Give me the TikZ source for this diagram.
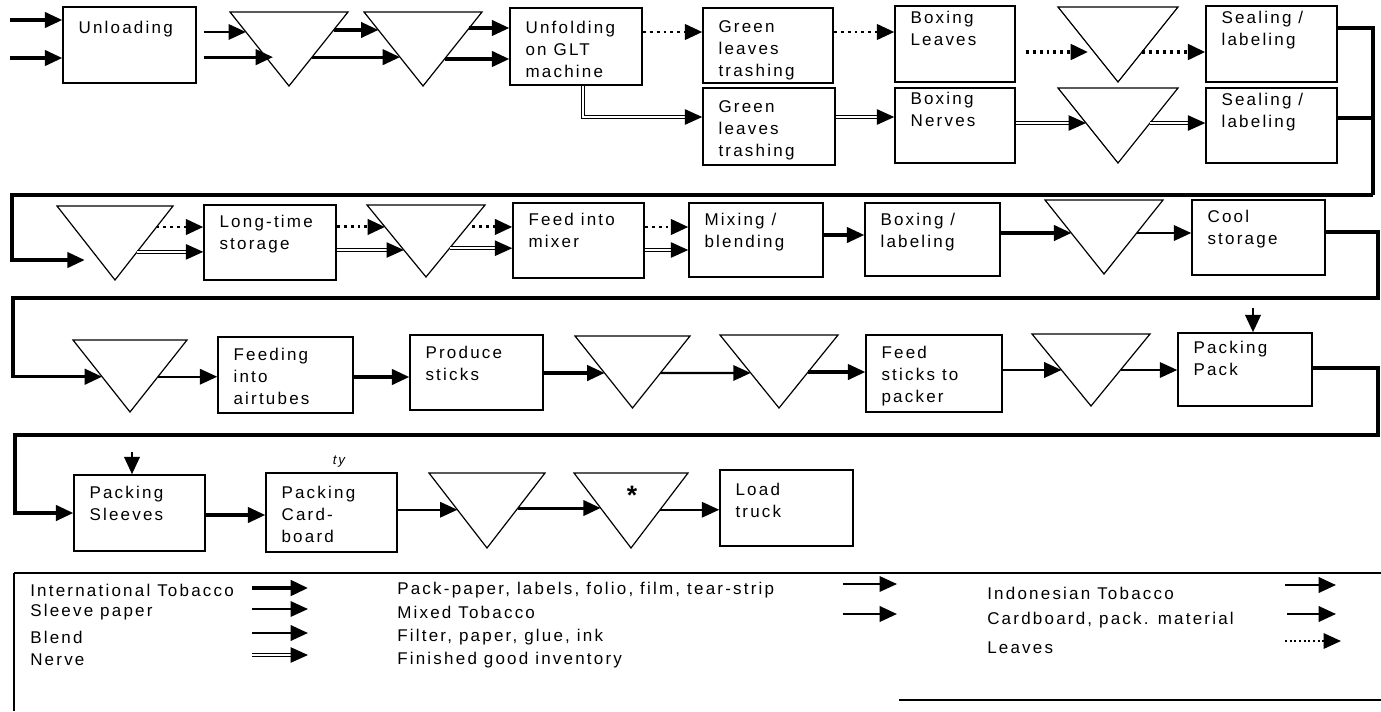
\documentclass[tikz,border=0pt]{standalone}
\usepackage{fontspec}
\setmainfont{Liberation Sans}[LetterSpace=13]
\usetikzlibrary{arrows.meta,calc}

\newcommand{\flowfont}{\fontsize{12.75pt}{16.5pt}\selectfont}

% process box: name, x1, y1, x2, y2, text drop, text
\newcommand{\flowbox}[7]{%
  \node[procbox, minimum width={(#4-(#2))*0.75pt}, minimum height={(#5-(#3))*0.75pt}]
    (#1) at ({(#2+#4)/2},{(#3+#5)/2}) {};
  \node[boxtext] (#1-txt) at ($(#1.north west)+(16,#6)$) {#7};
}

% storage triangle (apex down): name, left x, top y, width, height
\newcommand{\flowtri}[5]{%
  \coordinate (#1l) at (#2,#3);
  \coordinate (#1r) at ({#2+#4},#3);
  \coordinate (#1b) at ({#2+#4/2},{#3+#5});
  \draw[storetri] (#1l) -- (#1r) -- (#1b) -- cycle;
}

\begin{document}
\begin{tikzpicture}[x=0.75pt, y=-0.75pt,
  procbox/.style={draw, line width=1.1pt, inner sep=0pt},
  boxtext/.style={anchor=north west, align=left, inner sep=0pt, font=\flowfont},
  storetri/.style={draw, line width=0.9pt, line join=miter},
  tipA/.style={-{Triangle[length=13pt,width=11.5pt]}},
  flowA/.style={tipA, line width=2.3pt},
  flowB/.style={tipA, line width=1.6pt},
  dotflow/.style={tipA, line width=2.2pt, dash pattern=on 2.2pt off 3pt},
  nerve/.style={tipA, double, double distance=1.6pt, line width=0.9pt},
  loopline/.style={line width=2.4pt, line join=miter},
  legtext/.style={anchor=west, inner sep=0pt, font=\flowfont},
  frameline/.style={line width=1.8pt}
]
\useasboundingbox (0,0) rectangle (1381,711);

% ---------------- row 1 ----------------
\flowbox{UL}{63}{7}{196}{83}{15}{Unloading}
\flowbox{UF}{510}{8}{642}{85}{14}{Unfolding\\on GLT\\machine}
\flowbox{G1}{703}{8}{833}{83}{13}{Green\\leaves\\trashing}
\flowbox{BLv}{895}{6}{1015}{82}{6}{Boxing\\Leaves}
\flowbox{S1}{1206}{6}{1337}{82}{6}{Sealing /\\labeling}
\flowbox{G2}{703}{88}{835}{165}{13}{Green\\leaves\\trashing}
\flowbox{BN}{895}{88}{1015}{163}{5}{Boxing\\Nerves}
\flowbox{S2}{1206}{88}{1337}{163}{6}{Sealing /\\labeling}

\flowtri{T1}{230}{12}{118}{74}
\flowtri{T2}{364}{12}{118}{74}
\flowtri{T3}{1058}{7}{120}{75}
\flowtri{T4}{1058}{88}{120}{75}

% incoming tobacco
\coordinate (in1) at (10,20);
\coordinate (in2) at (10,58);
\draw[flowA] (in1) -- (UL.west |- in1);
\draw[flowA] (in2) -- (UL.west |- in2);

% unloading -> storage -> storage -> unfolding
\coordinate (T1a) at ($(T1l)!0.27!(T1b)$);
\coordinate (T1c) at ($(T1l)!0.61!(T1b)$);
\draw[flowB] ($(UL.east |- T1a)+(7,0)$) -- (T1a);
\draw[flowA] ($(UL.east |- T1c)+(7,0)$) -- ($(T1c)+(7,0)$);
\draw[flowA] ($(T1r)!0.243!(T1b)$) -- ($(T2l)!0.243!(T2b)$);
\draw[flowA] ($(T1r)!0.61!(T1b)$) -- ($(T2l)!0.61!(T2b)$);
\coordinate (T2o1) at ($(T2r)!0.216!(T2b)$);
\coordinate (T2o2) at ($(T2r)!0.635!(T2b)$);
\draw[flowA] (T2o1) -- (UF.west |- T2o1);
\draw[flowA] (T2o2) -- (UF.west |- T2o2);

% leaves line
\coordinate (lv1) at (0,32);
\draw[dotflow] (UF.east |- lv1) -- (G1.west |- lv1);
\draw[dotflow] (G1.east |- lv1) -- (BLv.west |- lv1);
\coordinate (T3a) at ($(T3l)!0.6!(T3b)$);
\coordinate (T3o) at ($(T3r)!0.6!(T3b)$);
\draw[dotflow, line width=2.8pt] ($(BLv.east |- T3a)+(10,0)$) -- ($(T3a)+(-6,0)$);
\draw[dotflow, line width=2.8pt] (T3o) -- (S1.west |- T3o);

% nerve line
\coordinate (nv) at (583,117);
\draw[nerve] (UF.south -| nv) |- (G2.west |- nv);
\draw[nerve] (G2.east |- nv) -- (BN.west |- nv);
\coordinate (T4a) at ($(T4l)!0.467!(T4b)$);
\coordinate (T4o) at ($(T4r)!0.467!(T4b)$);
\draw[nerve] (BN.east |- T4a) -- (T4a);
\draw[nerve] (T4o) -- (S2.west |- T4o);

% ---------------- row 2 ----------------
\flowbox{LTS}{204}{205}{336}{280}{11}{Long-time\\storage}
\flowbox{FM}{513}{203}{644}{278}{11}{Feed into\\mixer}
\flowbox{MB}{689}{203}{823}{277}{11}{Mixing /\\blending}
\flowbox{BX}{865}{203}{1000}{276}{11}{Boxing /\\labeling}
\flowbox{CS}{1192}{200}{1325}{275}{11}{Cool\\storage}

\flowtri{TA}{57}{206}{116}{74}
\flowtri{TB}{367}{205}{118}{72}
\flowtri{TC}{1045}{200}{118}{74}

% return from row 1
\coordinate (k1) at (1373,195);
\coordinate (k1l) at (12,195);
\coordinate (s1y) at (0,28);
\coordinate (s2y) at (0,118);
\coordinate (TAa) at ($(TAl)!0.73!(TAb)$);
\draw[loopline] (S1.east |- s1y) -| (k1);
\draw[loopline] (S2.east |- s2y) -- (k1 |- s2y);
\draw[loopline, tipA, shorten >=11pt] (k1) -- (k1l) |- (TAa);

\coordinate (TAo1) at ($(TAr)!0.284!(TAb)$);
\coordinate (TAo2) at ($(TAr)!0.62!(TAb)$);
\draw[dotflow] (TAo1) -- (LTS.west |- TAo1);
\draw[nerve] (TAo2) -- (LTS.west |- TAo2);
\coordinate (TBa) at ($(TBl)!0.305!(TBb)$);
\coordinate (TBc) at ($(TBl)!0.625!(TBb)$);
\draw[dotflow] (LTS.east |- TBa) -- (TBa);
\draw[nerve] (LTS.east |- TBc) -- (TBc);
\coordinate (TBo1) at ($(TBr)!0.305!(TBb)$);
\coordinate (TBo2) at ($(TBr)!0.6!(TBb)$);
\draw[dotflow] ($(TBo1)+(5,0)$) -- (FM.west |- TBo1);
\draw[nerve] (TBo2) -- (FM.west |- TBo2);
\coordinate (mx1) at (0,227);
\coordinate (mx2) at (0,250);
\draw[dotflow] (FM.east |- mx1) -- (MB.west |- mx1);
\draw[nerve] (FM.east |- mx2) -- (MB.west |- mx2);
\coordinate (bl1) at (0,235);
\draw[flowA] (MB.east |- bl1) -- (BX.west |- bl1);
\coordinate (TCa) at ($(TCl)!0.446!(TCb)$);
\coordinate (TCo) at ($(TCr)!0.446!(TCb)$);
\draw[flowA] (BX.east |- TCa) -- (TCa);
\draw[flowB] (TCo) -- (CS.west |- TCo);

% ---------------- row 3 ----------------
\flowbox{FA}{218}{337}{353}{413}{12}{Feeding\\into\\airtubes}
\flowbox{PS}{410}{335}{543}{410}{12}{Produce\\sticks}
\flowbox{FSP}{866}{335}{1002}{412}{12}{Feed\\sticks to\\packer}
\flowbox{PP}{1178}{333}{1312}{406}{9}{Packing\\Pack}

\flowtri{TD}{73}{340}{114}{72}
\flowtri{TEa}{575}{336}{115}{72}
\flowtri{TEb}{720}{335}{118}{73}
\flowtri{TF}{1032}{334}{118}{72}

% return from row 2
\coordinate (k2) at (1378,298);
\coordinate (k2l) at (13,298);
\coordinate (cs1) at (0,232);
\coordinate (TDa) at ($(TDl)!0.51!(TDb)$);
\draw[loopline, tipA] (CS.east |- cs1) -| (k2) -- (k2l) |- (TDa);

\coordinate (TDo) at ($(TDr)!0.51!(TDb)$);
\draw[flowB] (TDo) -- (FA.west |- TDo);
\coordinate (r3) at (0,377);
\draw[flowA] (FA.east |- r3) -- (PS.west |- r3);
\coordinate (TEaa) at ($(TEal)!0.514!(TEab)$);
\coordinate (TEao) at ($(TEar)!0.514!(TEab)$);
\coordinate (TEba) at ($(TEbl)!0.52!(TEbb)$);
\coordinate (TEbo) at ($(TEbr)!0.507!(TEbb)$);
\draw[flowA] (PS.east |- TEaa) -- (TEaa);
\draw[flowB] (TEao) -- (TEba);
\draw[flowA] (TEbo) -- (FSP.west |- TEbo);
\coordinate (TFa) at ($(TFl)!0.5!(TFb)$);
\coordinate (TFo) at ($(TFr)!0.5!(TFb)$);
\draw[flowB, line width=1.9pt] (FSP.east |- TFa) -- (TFa);
\draw[flowB] (TFo) -- (PP.west |- TFo);
\coordinate (ppin) at (1253,308);
\draw[flowB, line width=2pt] (ppin) -- (PP.north -| ppin);

% ---------------- row 4 ----------------
\flowbox{PSL}{74}{475}{205}{551}{12}{Packing\\Sleeves}
\flowbox{PC}{266}{473}{397}{552}{14}{Packing\\Card-\\board}
\flowbox{LT}{720}{470}{853}{546}{14}{Load\\truck}

\flowtri{TG}{429}{473}{116}{75}
\flowtri{TH}{574}{473}{114}{75}
\node[font=\fontsize{20pt}{20pt}\selectfont\bfseries, inner sep=0pt] (star) at (632,495) {*};
\node[font=\fontsize{10pt}{10pt}\selectfont\itshape, inner sep=0pt] (tymark) at (339,462) {ty};

% return from row 3
\coordinate (k3) at (1378,435);
\coordinate (k3l) at (15,435);
\coordinate (pp1) at (0,368);
\coordinate (psl1) at (0,513);
\draw[loopline, tipA] (PP.east |- pp1) -| (k3) -- (k3l) |- (PSL.west |- psl1);

\coordinate (pslin) at (132,452);
\draw[flowB, line width=2pt] (pslin) -- (PSL.north -| pslin);
\coordinate (r4a) at (0,515);
\draw[flowA] (PSL.east |- r4a) -- (PC.west |- r4a);
\coordinate (TGa) at ($(TGl)!0.49!(TGb)$);
\coordinate (TGo) at ($(TGr)!0.467!(TGb)$);
\coordinate (THa) at ($(THl)!0.467!(THb)$);
\coordinate (THo) at ($(THr)!0.49!(THb)$);
\draw[flowB] (PC.east |- TGa) -- (TGa);
\draw[flowA] (TGo) -- (THa);
\draw[flowB] (THo) -- (LT.west |- THo);

% ---------------- legend ----------------
\draw[frameline] (14,573) -- (1381,573);
\draw[frameline] (14,573) -- (14,711);
\draw[frameline] (899,700) -- (1381,700);

\node[legtext] (lgA) at (30,590) {International Tobacco};
\node[legtext] (lgB) at (30,612) {Sleeve paper};
\node[legtext] (lgC) at (30,637) {Blend};
\node[legtext] (lgD) at (30,660) {Nerve};
\node[legtext] (lgE) at (397,590) {Pack-paper, labels, folio, film, tear-strip};
\node[legtext] (lgF) at (397,612) {Mixed Tobacco};
\node[legtext] (lgG) at (397,637) {Filter, paper, glue, ink};
\node[legtext] (lgH) at (397,660) {Finished good inventory};
\node[legtext] (lgI) at (987,593) {Indonesian Tobacco};
\node[legtext] (lgJ) at (987,620) {Cardboard, pack. material};
\node[legtext] (lgK) at (987,648) {Leaves};

\coordinate (lgAs) at (252,588); \coordinate (lgAe) at (308,588);
\coordinate (lgBs) at (252,609); \coordinate (lgBe) at (308,609);
\coordinate (lgCs) at (252,633); \coordinate (lgCe) at (308,633);
\coordinate (lgDs) at (252,655); \coordinate (lgDe) at (308,655);
\coordinate (lgEs) at (843,584); \coordinate (lgEe) at (897,584);
\coordinate (lgFs) at (843,614); \coordinate (lgFe) at (897,614);
\coordinate (lgIs) at (1285,585); \coordinate (lgIe) at (1336,585);
\coordinate (lgJs) at (1287,614); \coordinate (lgJe) at (1336,614);
\coordinate (lgKs) at (1285,641); \coordinate (lgKe) at (1341,641);

\draw[flowA, line width=2.8pt] (lgAs) -- (lgAe);
\draw[flowB, line width=1.5pt] (lgBs) -- (lgBe);
\draw[flowB, line width=1.9pt] (lgCs) -- (lgCe);
\draw[nerve] (lgDs) -- (lgDe);
\draw[flowB] (lgEs) -- (lgEe);
\draw[flowB, line width=2pt] (lgFs) -- (lgFe);
\draw[flowB, line width=1.9pt] (lgIs) -- (lgIe);
\draw[flowB, line width=1.9pt] (lgJs) -- (lgJe);
\draw[dotflow, line width=1.4pt, dash pattern=on 1.5pt off 2pt] (lgKs) -- (lgKe);

\end{tikzpicture}
\end{document}
